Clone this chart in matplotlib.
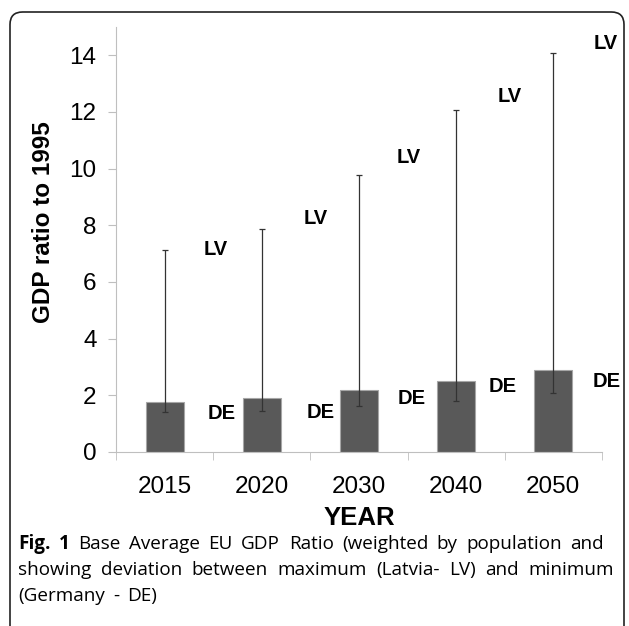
import matplotlib.pyplot as plt
from matplotlib.patches import FancyBboxPatch
import numpy as np

years = ["2015", "2020", "2030", "2040", "2050"]
avg = [1.78, 1.91, 2.20, 2.52, 2.89]
lo = [1.40, 1.45, 1.63, 1.81, 2.08]   # Germany (DE)
hi = [7.12, 7.87, 9.77, 12.06, 14.08]  # Latvia (LV)

# label anchors (x offset in category units, y in data units)
lv_dx = [0.40, 0.43, 0.39, 0.43, 0.41]
lv_y = [7.15, 8.25, 10.38, 12.56, 14.40]
de_dx = [0.44, 0.46, 0.40, 0.33, 0.40]
de_y = [1.35, 1.38, 1.87, 2.30, 2.50]

caption = [
    ["Fig.", "1", "Base", "Average", "EU", "GDP", "Ratio", "(weighted", "by", "population", "and"],
    ["showing", "deviation", "between", "maximum", "(Latvia-", "LV)", "and", "minimum"],
    ["(Germany", "-", "DE)"],
]

plt.rcParams['font.family'] = 'Liberation Sans'

fig = plt.figure(figsize=(6.29, 6.26), dpi=100)
ax = fig.add_axes([0.1844, 0.278, 0.7726, 0.679])

x = np.arange(len(years))
err = [np.array(avg) - np.array(lo), np.array(hi) - np.array(avg)]
ax.bar(x, avg, width=0.39, color="#595959", edgecolor="#a6a6a6", linewidth=0.8, zorder=2)
ax.errorbar(x, avg, yerr=err, fmt="none", ecolor="#333333", elinewidth=0.9,
            capsize=2.5, capthick=0.9, zorder=3)

for i in range(len(years)):
    ax.text(x[i] + lv_dx[i], lv_y[i], "LV", fontsize=14.5, fontweight="bold",
            va="center", ha="left")
    ax.text(x[i] + de_dx[i], de_y[i], "DE", fontsize=14.5, fontweight="bold",
            va="center", ha="left")

ax.set_xlim(-0.5, len(years) - 0.5)
ax.set_ylim(0, 15)
ax.set_yticks(range(0, 15, 2))
ax.set_xticks(x)
ax.set_xticklabels(years)
ax.set_xticks(np.arange(-0.5, len(years), 1), minor=True)
ax.tick_params(axis="x", which="major", length=0, labelsize=17.5, pad=17)
ax.tick_params(axis="x", which="minor", length=6, color="#bfbfbf")
ax.tick_params(axis="y", length=6, color="#bfbfbf", labelsize=17.5, pad=8)
for s in ["top", "right"]:
    ax.spines[s].set_visible(False)
for s in ["left", "bottom"]:
    ax.spines[s].set_color("#bfbfbf")

ax.set_xlabel("YEAR", fontsize=18.5, fontweight="bold", labelpad=6)
fig.text(44 / 629, 1 - 222 / 626, "GDP ratio to 1995", rotation=90, fontsize=17.5,
         fontweight="bold", ha="center", va="center")

# frame, open at the bottom
frame = FancyBboxPatch((10 / 629, -0.2), 614 / 629, 1 - 12 / 626 + 0.2,
                       boxstyle="round,pad=0,rounding_size=0.02",
                       transform=fig.transFigure, fill=False, edgecolor="#222222",
                       linewidth=1.2)
fig.patches.append(frame)

# justified caption
cap_font = "Open Sans"
cap_size = 13.6
renderer = fig.canvas.get_renderer()
W, H = 629, 626
line_y = [544, 570, 596]
line_end = [604, 614, None]
x0 = 18
for k, words in enumerate(caption):
    texts = []
    for j, w in enumerate(words):
        bold = k == 0 and j < 2
        t = fig.text(0, 1 - line_y[k] / H, w, fontsize=cap_size, family=cap_font,
                     fontweight="bold" if bold else "normal", va="center", ha="left")
        texts.append(t)
    widths = [t.get_window_extent(renderer).width for t in texts]
    if line_end[k] is not None:
        gap = (line_end[k] - x0 - sum(widths)) / (len(words) - 1)
    else:
        gap = 8
    pos = x0
    for t, w in zip(texts, widths):
        t.set_x(pos / W)
        pos += w + gap

fig.savefig("out.png", dpi=100)
